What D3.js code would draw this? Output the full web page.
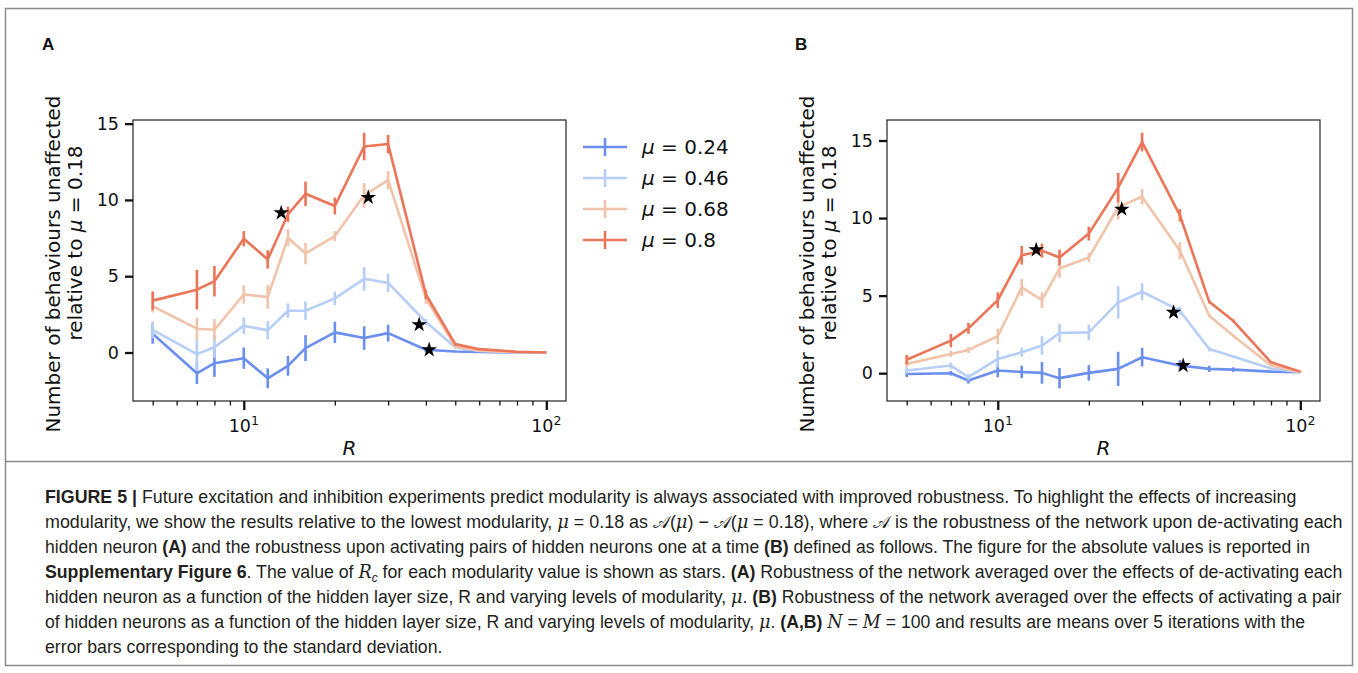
<!DOCTYPE html>
<html>
<head>
<meta charset="utf-8">
<script src="https://cdn.jsdelivr.net/npm/d3@7"></script>
<style>
    body { margin: 0; background: #fff; }
    svg text { fill: #111; }
</style>
</head>
<body>
<svg id="figure" width="1358" height="673" font-family="DejaVu Sans, sans-serif"></svg>
<script>
// hidden layer sizes (x values, shared by both panels)
const R_VALUES = [5, 7, 8, 10, 12, 14, 16, 20, 25, 30, 40, 50, 60, 80, 100];
const MU_VALUES = [0.24, 0.46, 0.68, 0.8];
const SERIES_COLORS = ['#6b8ff0', '#b6cef8', '#f2c3ab', '#ec7558'];

// panel A: de-activating each hidden neuron
const A_MU024 = [1.23, -1.36, -0.70, -0.37, -1.69, -0.87, 0.29, 1.32, 0.95, 1.27, 0.18, 0.07, 0.04, 0.0, 0.0];
const A_MU024_ERR = [0.65, 0.7, 0.9, 0.7, 0.65, 0.65, 0.85, 0.7, 0.77, 0.55, 0.15, 0.05, 0.03, 0.0, 0.0];
const A_MU046 = [1.49, -0.10, 0.35, 1.76, 1.45, 2.74, 2.74, 3.55, 4.83, 4.56, 2.0, 0.35, 0.1, 0.02, 0.0];
const A_MU046_ERR = [0.55, 1.1, 0.7, 0.55, 0.6, 0.47, 0.6, 0.45, 0.77, 0.6, 0.2, 0.1, 0.05, 0.0, 0.0];
const A_MU068 = [3.03, 1.56, 1.49, 3.80, 3.64, 7.52, 6.49, 7.63, 10.3, 11.3, 3.55, 0.4, 0.12, 0.02, 0.0];
const A_MU068_ERR = [0.4, 0.7, 0.7, 0.6, 0.77, 0.55, 0.7, 0.33, 0.8, 0.6, 0.35, 0.1, 0.05, 0.0, 0.0];
const A_MU080 = [3.40, 4.12, 4.67, 7.46, 6.10, 9.06, 10.4, 9.6, 13.5, 13.66, 3.8, 0.55, 0.22, 0.05, 0.0];
const A_MU080_ERR = [0.6, 1.3, 1.0, 0.5, 0.6, 0.5, 0.8, 0.55, 0.9, 0.6, 0.3, 0.1, 0.05, 0.0, 0.0];
// R_c stars for panel A (one per mu)
const A_STAR_R = [41, 38, 25.8, 13.3];
const A_STAR_V = [0.18, 1.82, 10.16, 9.15];

// panel B: activating pairs of hidden neurons
const B_MU024 = [-0.05, 0.0, -0.47, 0.17, 0.08, 0.02, -0.32, 0.02, 0.28, 1.03, 0.49, 0.28, 0.23, 0.1, 0.06];
const B_MU024_ERR = [0.2, 0.15, 0.2, 0.43, 0.4, 0.7, 0.65, 0.5, 1.1, 0.6, 0.35, 0.2, 0.15, 0.05, 0.02];
const B_MU046 = [0.17, 0.49, -0.26, 0.92, 1.35, 1.78, 2.59, 2.63, 4.56, 5.25, 4.03, 1.56, 1.07, 0.3, 0.06];
const B_MU046_ERR = [0.2, 0.2, 0.2, 0.55, 0.3, 0.6, 0.6, 0.5, 1.05, 0.55, 0.25, 0.15, 0.1, 0.05, 0.02];
const B_MU068 = [0.6, 1.24, 1.5, 2.38, 5.53, 4.71, 6.75, 7.46, 10.7, 11.38, 7.9, 3.7, 2.42, 0.5, 0.06];
const B_MU068_ERR = [0.2, 0.2, 0.2, 0.5, 0.55, 0.5, 0.6, 0.3, 0.8, 0.5, 0.55, 0.1, 0.1, 0.05, 0.02];
const B_MU080 = [0.87, 2.1, 2.89, 4.71, 7.6, 7.9, 7.46, 9.0, 11.96, 14.9, 10.18, 4.6, 3.38, 0.7, 0.1];
const B_MU080_ERR = [0.3, 0.43, 0.35, 0.5, 0.6, 0.45, 0.5, 0.45, 0.95, 0.6, 0.4, 0.1, 0.1, 0.05, 0.02];
const B_STAR_R = [41, 38.1, 25.7, 13.4];
const B_STAR_V = [0.49, 3.92, 10.57, 7.95];

const Y_TICKS = [0, 5, 10, 15];
const X_MAJOR = [10, 100];
const X_MINOR = [5, 6, 7, 8, 9, 20, 30, 40, 50, 60, 70, 80, 90];

const svg = d3.select('#figure');

// frame around figure and caption
svg.append('rect')
    .attr('x', 5.5).attr('y', 8.5)
    .attr('width', 1347).attr('height', 657)
    .attr('fill', 'none')
    .attr('stroke', '#8a8a8a')
    .attr('stroke-width', 1.5);
svg.append('line')
    .attr('x1', 5.5).attr('x2', 1352.5)
    .attr('y1', 461.5).attr('y2', 461.5)
    .attr('stroke', '#8a8a8a')
    .attr('stroke-width', 1.5);

function makeSeries(means, errs) {
    return R_VALUES.map((r, i) => ({ r: r, v: means[i], e: errs[i] }));
}

function drawPanel(opts) {
    const g = svg.append('g');
    const left = opts.left, top = opts.top, width = 433, height = 281;

    // matplotlib style 5% margins (log space for x)
    const lx = d3.extent(R_VALUES).map(Math.log10);
    const padX = (lx[1] - lx[0]) * 0.05;
    const x = d3.scaleLog()
        .domain([Math.pow(10, lx[0] - padX), Math.pow(10, lx[1] + padX)])
        .range([left, left + width]);

    const all = opts.series.flat();
    const lo = d3.min(all, d => d.v - d.e), hi = d3.max(all, d => d.v + d.e);
    const padY = (hi - lo) * 0.05;
    const y = d3.scaleLinear()
        .domain([lo - padY, hi + padY])
        .range([top + height, top]);

    const line = d3.line().x(d => x(d.r)).y(d => y(d.v));

    opts.series.forEach((s, k) => {
        const color = SERIES_COLORS[k];
        g.append('path')
            .datum(s)
            .attr('d', line)
            .attr('fill', 'none')
            .attr('stroke', color)
            .attr('stroke-width', 2.6)
            .attr('stroke-linejoin', 'round');
        g.selectAll(null)
            .data(s.filter(d => d.e > 0))
            .enter().append('line')
            .attr('x1', d => x(d.r)).attr('x2', d => x(d.r))
            .attr('y1', d => y(d.v - d.e)).attr('y2', d => y(d.v + d.e))
            .attr('stroke', color)
            .attr('stroke-width', 2.6);
    });

    // R_c stars
    const star = d3.symbol().type(d3.symbolStar).size(75);
    g.selectAll(null)
        .data(opts.starR.map((r, i) => ({ r: r, v: opts.starV[i] })))
        .enter().append('path')
        .attr('d', star)
        .attr('transform', d => `translate(${x(d.r)},${y(d.v)})`)
        .attr('fill', '#000');

    // spines
    g.append('rect')
        .attr('x', left).attr('y', top)
        .attr('width', width).attr('height', height)
        .attr('fill', 'none')
        .attr('stroke', '#222')
        .attr('stroke-width', 1.2);

    // y axis
    const yAxis = g.append('g')
        .attr('transform', `translate(${left},0)`)
        .call(d3.axisLeft(y).tickValues(Y_TICKS).tickSize(8).tickPadding(6));
    yAxis.select('.domain').remove();
    yAxis.selectAll('line').attr('stroke', '#111').attr('stroke-width', 2.3);
    yAxis.selectAll('text')
        .attr('font-size', '17.5px')
        .attr('font-family', 'DejaVu Sans');

    // x axis, minor + major
    const xMinor = g.append('g')
        .attr('transform', `translate(0,${top + height})`)
        .call(d3.axisBottom(x).tickValues(X_MINOR.filter(v => v > x.domain()[0])).tickSize(4.5).tickFormat(''));
    xMinor.select('.domain').remove();
    xMinor.selectAll('line').attr('stroke', '#111').attr('stroke-width', 1.3);

    const xMajor = g.append('g')
        .attr('transform', `translate(0,${top + height})`)
        .call(d3.axisBottom(x).tickValues(X_MAJOR).tickSize(9).tickFormat(''));
    xMajor.select('.domain').remove();
    xMajor.selectAll('line').attr('stroke', '#111').attr('stroke-width', 2.3);

    X_MAJOR.forEach(v => {
        const t = g.append('text')
            .attr('x', x(v))
            .attr('y', top + height + 31)
            .attr('text-anchor', 'middle')
            .attr('font-size', '17.5px');
        t.append('tspan').text('10');
        t.append('tspan')
            .attr('dy', -7)
            .attr('font-size', '12.5px')
            .text(String(Math.round(Math.log10(v))));
    });

    // x label
    g.append('text')
        .attr('x', left + width / 2)
        .attr('y', top + height + 54)
        .attr('text-anchor', 'middle')
        .attr('font-size', '20px')
        .attr('font-style', 'italic')
        .text('R');

    // y label, two lines
    g.append('text')
        .attr('transform', `translate(${left - 73},264) rotate(-90)`)
        .attr('text-anchor', 'middle')
        .attr('font-size', '20px')
        .text('Number of behaviours unaffected');
    const yl2 = g.append('text')
        .attr('transform', `translate(${left - 51},243) rotate(-90)`)
        .attr('text-anchor', 'middle')
        .attr('font-size', '20px');
    yl2.append('tspan').text('relative to ');
    yl2.append('tspan').attr('font-style', 'italic').text('μ');
    yl2.append('tspan').text(' = 0.18');

    // panel letter
    svg.append('text')
        .attr('x', opts.letterX)
        .attr('y', 50)
        .style('font-family', '"Liberation Sans", Arial, sans-serif')
        .attr('font-weight', 'bold')
        .attr('font-size', '17px')
        .text(opts.letter);

    if (opts.legend) {
        const lg = g.append('g').attr('transform', `translate(${left + width + 17},147)`);
        MU_VALUES.forEach((mu, k) => {
            const row = lg.append('g').attr('transform', `translate(0,${k * 31})`);
            row.append('line')
                .attr('x1', 0).attr('x2', 44)
                .attr('stroke', SERIES_COLORS[k]).attr('stroke-width', 2.6);
            row.append('line')
                .attr('x1', 22).attr('x2', 22)
                .attr('y1', -9).attr('y2', 9)
                .attr('stroke', SERIES_COLORS[k]).attr('stroke-width', 2.6);
            const t = row.append('text')
                .attr('x', 59).attr('y', 7)
                .attr('font-size', '20px');
            t.append('tspan').attr('font-style', 'italic').text('μ');
            t.append('tspan').text(' = ' + mu);
        });
    }
}

drawPanel({
    left: 133, top: 120, letter: 'A', letterX: 42, legend: true,
    series: [makeSeries(A_MU024, A_MU024_ERR), makeSeries(A_MU046, A_MU046_ERR),
             makeSeries(A_MU068, A_MU068_ERR), makeSeries(A_MU080, A_MU080_ERR)],
    starR: A_STAR_R, starV: A_STAR_V
});
drawPanel({
    left: 887, top: 120, letter: 'B', letterX: 795, legend: false,
    series: [makeSeries(B_MU024, B_MU024_ERR), makeSeries(B_MU046, B_MU046_ERR),
             makeSeries(B_MU068, B_MU068_ERR), makeSeries(B_MU080, B_MU080_ERR)],
    starR: B_STAR_R, starV: B_STAR_V
});

// caption: each line is a list of [text, style], n normal, b bold, m math italic, s subscript
const CAPTION = [
    [['FIGURE 5 | ', 'b'], ['Future excitation and inhibition experiments predict modularity is always associated with improved robustness. To highlight the effects of increasing', 'n']],
    [['modularity, we show the results relative to the lowest modularity, ', 'n'], ['μ', 'm'], [' = 0.18 as ', 'n'], ['𝒜', 'n'], ['(', 'n'], ['μ', 'm'], [') − ', 'n'], ['𝒜', 'n'], ['(', 'n'], ['μ', 'm'], [' = 0.18), where ', 'n'], ['𝒜', 'n'], [' is the robustness of the network upon de-activating each', 'n']],
    [['hidden neuron ', 'n'], ['(A)', 'b'], [' and the robustness upon activating pairs of hidden neurons one at a time ', 'n'], ['(B)', 'b'], [' defined as follows. The figure for the absolute values is reported in', 'n']],
    [['Supplementary Figure 6', 'b'], ['. The value of ', 'n'], ['R', 'm'], ['c', 's'], [' for each modularity value is shown as stars. ', 'n'], ['(A)', 'b'], [' Robustness of the network averaged over the effects of de-activating each', 'n']],
    [['hidden neuron as a function of the hidden layer size, R and varying levels of modularity, ', 'n'], ['μ', 'm'], ['. ', 'n'], ['(B)', 'b'], [' Robustness of the network averaged over the effects of activating a pair', 'n']],
    [['of hidden neurons as a function of the hidden layer size, R and varying levels of modularity, ', 'n'], ['μ', 'm'], ['. ', 'n'], ['(A,B)', 'b'], [' ', 'n'], ['N', 'm'], [' = ', 'n'], ['M', 'm'], [' = 100 and results are means over 5 iterations with the', 'n']],
    [['error bars corresponding to the standard deviation.', 'n']]
];
// right edge of every full caption line (last line follows the average squeeze)
const CAPTION_ENDS = [1297, 1343, 1311, 1343, 1343, 1306];
const CAPTION_X = 45;

const squeezes = [];
CAPTION.forEach((segs, i) => {
    const t = svg.append('text')
        .attr('x', 0)
        .attr('y', 0)
        .style('font-family', '"Liberation Sans", Arial, sans-serif')
        .attr('font-size', '18px')
        .style('fill', '#231f20');
    let shifted = false;
    segs.forEach(([txt, style]) => {
        const sp = t.append('tspan').text(txt);
        if (shifted) { sp.attr('dy', -4); shifted = false; }
        if (style === 'b') sp.attr('font-weight', 'bold');
        if (style === 'm') sp.attr('font-style', 'italic').style('font-family', '"DejaVu Serif", serif');
        if (style === 's') {
            sp.attr('dy', 4).attr('font-size', '12px').attr('font-style', 'italic');
            shifted = true;
        }
    });
    // squeeze each line horizontally to the condensed width of the original
    const natural = t.node().getBBox().width;
    const sx = i < CAPTION_ENDS.length ? (CAPTION_ENDS[i] - CAPTION_X) / natural : d3.mean(squeezes);
    squeezes.push(sx);
    t.attr('transform', `translate(${CAPTION_X},${503 + i * 25}) scale(${sx},1)`);
});
</script>
</body>
</html>
